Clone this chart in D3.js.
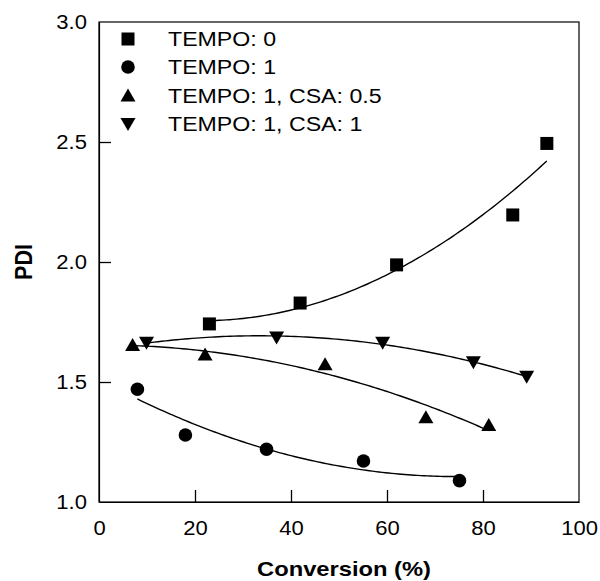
<!DOCTYPE html>
<html><head><meta charset="utf-8">
<script src="https://cdn.jsdelivr.net/npm/d3@7"></script>
<style>body{margin:0;background:#fff}svg{display:block}</style>
</head><body>
<svg id="c" width="600" height="581"></svg>
<script>
// Data
const seriesNames = ["TEMPO: 0", "TEMPO: 1", "TEMPO: 1, CSA: 0.5", "TEMPO: 1, CSA: 1"];
const markerTypes = ["square", "circle", "triangleUp", "triangleDown"];
const tempo0X = [23, 41.9, 62, 86.2, 93.3];
const tempo0Y = [1.742, 1.829, 1.988, 2.196, 2.494];
const tempo1X = [8.0, 18.0, 34.9, 55.1, 75.1];
const tempo1Y = [1.470, 1.279, 1.220, 1.171, 1.089];
const csa05X = [7.0, 22.1, 47.1, 68.1, 81.2];
const csa05Y = [1.654, 1.615, 1.574, 1.353, 1.321];
const csa1X = [9.9, 37.0, 59.1, 78.0, 89.1];
const csa1Y = [1.664, 1.685, 1.664, 1.582, 1.522];
const xTicks = [0, 20, 40, 60, 80, 100];
const yTicks = [1.0, 1.5, 2.0, 2.5, 3.0];

const seriesX = [tempo0X, tempo1X, csa05X, csa1X];
const seriesY = [tempo0Y, tempo1Y, csa05Y, csa1Y];

const svg = d3.select("#c");
const L = 99, R = 579, T = 22, B = 502;
const SX = 1.13; // horizontal stretch of the lettering in the reference
const x = d3.scaleLinear().domain([0, 100]).range([L, R]);
const y = d3.scaleLinear().domain([1.0, 3.0]).range([B, T]);
const font = "'Liberation Sans', Arial, sans-serif";

// frame
svg.append("rect").attr("x", L).attr("y", T).attr("width", R - L).attr("height", B - T)
  .attr("fill", "none").attr("stroke", "#000").attr("stroke-width", 1.2);

// axes
const xAxis = d3.axisBottom(x).tickValues(xTicks).tickFormat(d3.format("d")).tickSizeInner(-12).tickSizeOuter(0);
const gx = svg.append("g").attr("transform", `translate(0,${B})`).call(xAxis);
const yAxis = d3.axisLeft(y).tickValues(yTicks).tickFormat(d3.format(".1f")).tickSizeInner(-12).tickSizeOuter(0);
const gy = svg.append("g").attr("transform", `translate(${L},0)`).call(yAxis);
[gx, gy].forEach(g => {
  g.select(".domain").attr("stroke", "#000").attr("stroke-width", 1.2);
  g.selectAll(".tick line").attr("stroke", "#000").attr("stroke-width", 1.3);
  g.selectAll(".tick text").attr("font-family", font).attr("font-size", 19.5).attr("fill", "#000");
});
gx.selectAll(".tick text").attr("x", 0).attr("y", 0).attr("dy", "0.35em")
  .attr("text-anchor", "middle").attr("transform", `translate(0,26) scale(${SX},1)`);
gy.selectAll(".tick text").attr("x", 0).attr("y", 0).attr("dy", "0.35em")
  .attr("text-anchor", "end").attr("transform", `translate(-12,0) scale(${SX},1)`);
gx.selectAll(".tick").filter(d => d === 0 || d === 100).select("line").remove();
gy.selectAll(".tick").filter(d => d === 1.0 || d === 3.0).select("line").remove();

// axis titles
svg.append("text").attr("transform", `translate(${(L + R) / 2 + 5},576) scale(${SX},1)`).attr("text-anchor", "middle")
  .attr("font-family", font).attr("font-weight", "bold").attr("font-size", 21).text("Conversion (%)");
svg.append("text").attr("transform", `translate(32,262) rotate(-90) scale(1,${SX})`).attr("text-anchor", "middle")
  .attr("font-family", font).attr("font-weight", "bold").attr("font-size", 21.5).text("PDI");

// quadratic least-squares fit lines
function quadFit(xs, ys) {
  const n = xs.length;
  let s = [0,0,0,0,0], t = [0,0,0];
  for (let i = 0; i < n; i++) {
    const xi = xs[i], yi = ys[i];
    for (let k = 0; k < 5; k++) s[k] += Math.pow(xi, k);
    for (let k = 0; k < 3; k++) t[k] += yi * Math.pow(xi, k);
  }
  const M = [[s[0], s[1], s[2], t[0]], [s[1], s[2], s[3], t[1]], [s[2], s[3], s[4], t[2]]];
  for (let i = 0; i < 3; i++) {
    for (let j = i + 1; j < 3; j++) {
      const f = M[j][i] / M[i][i];
      for (let k = i; k < 4; k++) M[j][k] -= f * M[i][k];
    }
  }
  const c = [0,0,0];
  for (let i = 2; i >= 0; i--) {
    let v = M[i][3];
    for (let k = i + 1; k < 3; k++) v -= M[i][k] * c[k];
    c[i] = v / M[i][i];
  }
  return xv => c[0] + c[1] * xv + c[2] * xv * xv;
}
const line = d3.line().x(d => x(d[0])).y(d => y(d[1]));
seriesX.forEach((xs, i) => {
  const f = quadFit(xs, seriesY[i]);
  const x0 = d3.min(xs), x1 = d3.max(xs);
  const pts = d3.range(0, 101).map(k => { const xv = x0 + (x1 - x0) * k / 100; return [xv, f(xv)]; });
  svg.append("path").attr("d", line(pts)).attr("fill", "none").attr("stroke", "#000").attr("stroke-width", 1.4);
});

// markers
function marker(g, type, cx, cy) {
  if (type === "square") {
    g.append("rect").attr("x", cx - 6.5).attr("y", cy - 6.5).attr("width", 13).attr("height", 13).attr("fill", "#000");
  } else if (type === "circle") {
    g.append("circle").attr("cx", cx).attr("cy", cy).attr("r", 6.8).attr("fill", "#000");
  } else if (type === "triangleUp") {
    g.append("path").attr("d", `M${cx},${cy - 7}L${cx + 7.5},${cy + 6}L${cx - 7.5},${cy + 6}Z`).attr("fill", "#000");
  } else {
    g.append("path").attr("d", `M${cx},${cy + 7}L${cx + 7.5},${cy - 6}L${cx - 7.5},${cy - 6}Z`).attr("fill", "#000");
  }
}
seriesX.forEach((xs, i) => {
  const g = svg.append("g");
  xs.forEach((xv, j) => marker(g, markerTypes[i], x(xv), y(seriesY[i][j])));
});

// legend
const legY = [39, 67, 95.5, 124];
seriesNames.forEach((name, i) => {
  const g = svg.append("g");
  marker(g, markerTypes[i], 128, legY[i]);
  g.append("text").attr("transform", `translate(168,${legY[i] + 7.3}) scale(${SX},1)`)
    .attr("font-family", font).attr("font-size", 20.5).text(name);
});
</script>
</body></html>
